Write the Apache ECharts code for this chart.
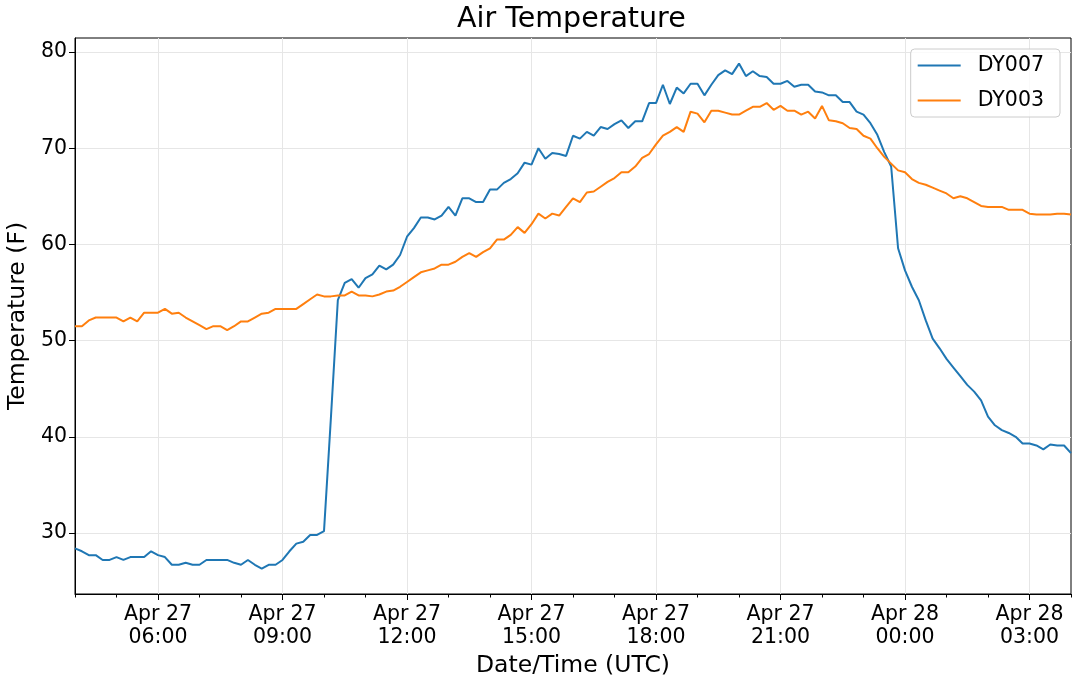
<!DOCTYPE html>
<html>
<head>
<meta charset="utf-8">
<title>Air Temperature</title>
<script src="https://cdn.jsdelivr.net/npm/echarts@6/dist/echarts.min.js"></script>
<style>
    html, body { margin: 0; padding: 0; background: #fff; }
    #chart { width: 1080px; height: 685px; }
</style>
</head>
<body>
<div id="chart"></div>
<script>
// readings every 10 minutes, Apr 27 04:00 UTC -> Apr 28 04:00 UTC
// x values are hours counted from Apr 27 00:00 UTC
const startHour = 4;
const stepHours = 1 / 6;

const dy007 = [
    28.4, 28.1, 27.7, 27.7, 27.2, 27.2, 27.5, 27.2, 27.5, 27.5,
    27.5, 28.1, 27.7, 27.5, 26.7, 26.7, 26.9, 26.7, 26.7, 27.2,
    27.2, 27.2, 27.2, 26.9, 26.7, 27.2, 26.7, 26.3, 26.7, 26.7,
    27.2, 28.1, 28.9, 29.1, 29.8, 29.8, 30.2, 42.0, 54.2, 56.0,
    56.4, 55.5, 56.5, 56.9, 57.8, 57.4, 57.9, 58.9, 60.8, 61.7,
    62.8, 62.8, 62.6, 63.0, 63.9, 63.0, 64.8, 64.8, 64.4, 64.4,
    65.7, 65.7, 66.4, 66.8, 67.4, 68.5, 68.3, 70.0, 68.9, 69.5,
    69.4, 69.2, 71.3, 71.0, 71.7, 71.3, 72.2, 72.0, 72.5, 72.9,
    72.1, 72.8, 72.8, 74.7, 74.7, 76.6, 74.6, 76.3, 75.7, 76.7,
    76.7, 75.5, 76.6, 77.6, 78.1, 77.7, 78.8, 77.5, 78.0, 77.5,
    77.4, 76.7, 76.7, 77.0, 76.4, 76.6, 76.6, 75.9, 75.8, 75.5,
    75.5, 74.8, 74.8, 73.8, 73.5, 72.6, 71.4, 69.6, 68.1, 59.6,
    57.3, 55.6, 54.2, 52.1, 50.2, 49.2, 48.1, 47.2, 46.3, 45.4,
    44.7, 43.8, 42.1, 41.2, 40.7, 40.4, 40.0, 39.3, 39.3, 39.1,
    38.7, 39.2, 39.1, 39.1, 38.3
];

const dy003 = [
    51.5, 51.5, 52.1, 52.4, 52.4, 52.4, 52.4, 52.0, 52.4, 52.0,
    52.9, 52.9, 52.9, 53.3, 52.8, 52.9, 52.4, 52.0, 51.6, 51.2,
    51.5, 51.5, 51.1, 51.5, 52.0, 52.0, 52.4, 52.8, 52.9, 53.3,
    53.3, 53.3, 53.3, 53.8, 54.3, 54.8, 54.6, 54.6, 54.7, 54.7,
    55.1, 54.7, 54.7, 54.6, 54.8, 55.1, 55.2, 55.6, 56.1, 56.6,
    57.1, 57.3, 57.5, 57.9, 57.9, 58.2, 58.7, 59.1, 58.7, 59.2,
    59.6, 60.5, 60.5, 61.0, 61.8, 61.2, 62.1, 63.2, 62.7, 63.2,
    63.0, 63.9, 64.8, 64.4, 65.4, 65.5, 66.0, 66.5, 66.9, 67.5,
    67.5, 68.1, 69.0, 69.4, 70.4, 71.3, 71.7, 72.2, 71.7, 73.8,
    73.6, 72.7, 73.9, 73.9, 73.7, 73.5, 73.5, 73.9, 74.3, 74.3,
    74.7, 74.0, 74.4, 73.9, 73.9, 73.5, 73.8, 73.1, 74.4, 72.9,
    72.8, 72.6, 72.1, 72.0, 71.3, 71.0, 70.0, 69.1, 68.4, 67.7,
    67.5, 66.8, 66.4, 66.2, 65.9, 65.6, 65.3, 64.8, 65.0, 64.8,
    64.4, 64.0, 63.9, 63.9, 63.9, 63.6, 63.6, 63.6, 63.2, 63.1,
    63.1, 63.1, 63.2, 63.2, 63.1
];

const xMajorTicks = [6, 9, 12, 15, 18, 21, 24, 27];
const yTicks = [30, 40, 50, 60, 70, 80];

const font = 'DejaVu Sans';

function toPoints(values) {
    return values.map((v, i) => [startHour + i * stepHours, v]);
}

// "Apr 27\n06:00"
function timeLabel(h) {
    const day = h < 24 ? 'Apr 27' : 'Apr 28';
    const hh = String(h % 24).padStart(2, '0');
    return day + '\n' + hh + ':00';
}

const chart = echarts.init(document.getElementById('chart'));

const option = {
    animation: false,
    backgroundColor: '#fff',
    textStyle: { fontFamily: font },
    title: {
        text: 'Air Temperature',
        left: 457,
        top: 5,
        padding: 0,
        textStyle: { fontFamily: font, fontSize: 28.5, fontWeight: 'normal', color: '#000' }
    },
    legend: {
        orient: 'vertical',
        right: 20,
        top: 49,
        icon: 'rect',
        itemWidth: 43,
        itemHeight: 2,
        itemGap: 14,
        padding: [6, 16, 6, 7],
        borderColor: '#cccccc',
        borderWidth: 1,
        borderRadius: 4,
        backgroundColor: 'rgba(255,255,255,0.8)',
        textStyle: { fontFamily: font, fontSize: 20.5, color: '#000', padding: [0, 0, 0, 12] },
        data: ['DY007', 'DY003']
    },
    grid: {
        left: 75,
        right: 9,
        top: 38,
        bottom: 91,
        outerBoundsMode: 'none',
        containLabel: false,
        show: true,
        borderColor: '#000',
        borderWidth: 1,
        backgroundColor: 'transparent'
    },
    xAxis: [
        {
            type: 'value',
            min: 4,
            max: 28,
            position: 'bottom',
            name: 'Date/Time (UTC)',
            nameLocation: 'middle',
            nameGap: 57,
            nameTextStyle: { fontFamily: font, fontSize: 23.5, color: '#000' },
            axisLine: { show: true, lineStyle: { color: '#000', width: 1 } },
            axisTick: { show: true, customValues: xMajorTicks, length: 6, lineStyle: { color: '#000' } },
            axisLabel: {
                customValues: xMajorTicks,
                formatter: timeLabel,
                fontFamily: font,
                fontSize: 20.5,
                lineHeight: 23,
                color: '#000',
                margin: 9
            },
            splitLine: { show: true, lineStyle: { color: '#e6e6e6', width: 1 } }
        },
        {
            // hourly minor ticks
            type: 'value',
            min: 4,
            max: 28,
            interval: 1,
            position: 'bottom',
            axisLine: { show: false },
            axisTick: { show: true, length: 3.5, lineStyle: { color: '#000' } },
            axisLabel: { show: false },
            splitLine: { show: false }
        }
    ],
    yAxis: {
        type: 'value',
        min: 23.66,
        max: 81.46,
        name: 'Temperature (F)',
        nameLocation: 'middle',
        nameRotate: 90,
        nameGap: 44,
        nameTextStyle: { fontFamily: font, fontSize: 23.5, color: '#000' },
        axisLine: { show: true, lineStyle: { color: '#000', width: 1 } },
        axisTick: { show: true, customValues: yTicks, length: 6, lineStyle: { color: '#000' } },
        axisLabel: {
            customValues: yTicks,
            fontFamily: font,
            fontSize: 20.5,
            color: '#000',
            margin: 8
        },
        splitLine: { show: true, lineStyle: { color: '#e6e6e6', width: 1 } }
    },
    series: [
        {
            name: 'DY007',
            type: 'line',
            xAxisIndex: 0,
            data: toPoints(dy007),
            symbol: 'none',
            lineStyle: { color: '#1f77b4', width: 2 },
            itemStyle: { color: '#1f77b4' }
        },
        {
            name: 'DY003',
            type: 'line',
            xAxisIndex: 0,
            data: toPoints(dy003),
            symbol: 'none',
            lineStyle: { color: '#ff7f0e', width: 2 },
            itemStyle: { color: '#ff7f0e' }
        }
    ]
};

chart.setOption(option);

window.addEventListener('resize', function() {
    chart.resize();
});
</script>
</body>
</html>
